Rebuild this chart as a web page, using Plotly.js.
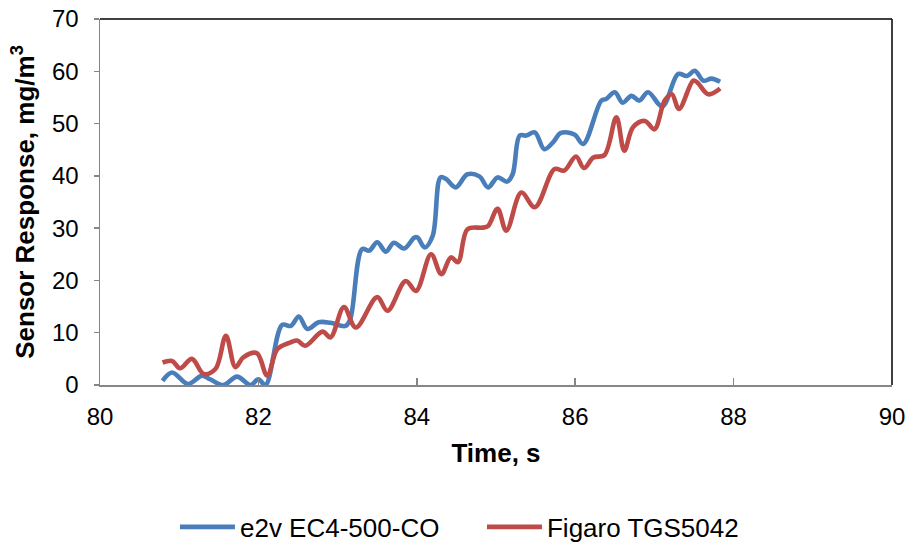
<!DOCTYPE html>
<html>
<head>
<meta charset="utf-8">
<script src="https://cdn.plot.ly/plotly-3.0.1.min.js"></script>
<style>html,body{margin:0;padding:0;background:#fff;}#chart{width:908px;height:545px;}</style>
</head>
<body>
<div id="chart"></div>
<script>
const seriesNames = ["e2v EC4-500-CO", "Figaro TGS5042"];

const e2vTime = [80.79,80.91,81.11,81.29,81.39,81.56,81.73,81.90,82.00,82.09,82.30,82.41,82.51,82.62,82.76,82.91,83.10,83.16,83.31,83.40,83.50,83.61,83.71,83.84,83.97,84.01,84.10,84.20,84.30,84.37,84.49,84.64,84.79,84.90,85.02,85.14,85.21,85.30,85.38,85.49,85.61,85.72,85.82,85.99,86.10,86.33,86.39,86.50,86.60,86.71,86.81,86.92,87.10,87.30,87.41,87.51,87.62,87.72,87.83];
const e2vValue = [0.8,2.4,0.2,1.8,1.1,0.0,1.6,0.0,1.1,0.0,11.5,11.3,13.1,10.7,12.0,11.9,11.3,12.6,26.0,25.7,27.3,25.5,27.2,26.1,28.2,28.2,26.3,28.5,39.7,39.4,37.8,40.3,39.9,37.8,39.7,38.9,40.3,47.7,47.7,48.3,45.1,46.4,48.2,47.9,46.1,54.4,54.7,56.0,54.0,55.3,54.4,56.0,53.3,59.5,59.1,60.1,58.2,58.6,58.0];

const figaroTime = [80.79,80.91,81.01,81.16,81.31,81.46,81.59,81.71,81.81,81.98,82.11,82.24,82.38,82.49,82.59,82.81,82.91,83.08,83.23,83.50,83.63,83.86,83.99,84.18,84.31,84.43,84.52,84.64,84.83,84.90,85.02,85.13,85.32,85.49,85.74,85.86,86.01,86.11,86.23,86.37,86.52,86.62,86.73,86.88,87.00,87.13,87.22,87.31,87.49,87.54,87.68,87.83];
const figaroValue = [4.3,4.6,3.2,5.0,2.1,3.1,9.4,3.4,5.3,6.1,1.8,6.9,8.0,8.5,7.5,10.2,9.1,14.9,11.0,16.8,14.2,19.9,18.0,25.0,21.2,24.4,23.5,29.8,30.1,30.4,33.7,29.5,36.8,34.0,41.3,41.0,43.7,41.5,43.5,44.0,51.2,44.8,49.3,50.5,48.9,54.4,55.6,52.8,58.2,57.9,55.6,56.7];

const xTicks = [80,82,84,86,88,90];
const yTicks = [0,10,20,30,40,50,60,70];

const FONT = "Liberation Sans, Arial, sans-serif";

const traces = [
  {x: e2vTime, y: e2vValue, name: seriesNames[0], mode: "lines", type: "scatter",
   line: {color: "#4a7ebb", width: 4.6, shape: "spline", smoothing: 1.0}},
  {x: figaroTime, y: figaroValue, name: seriesNames[1], mode: "lines", type: "scatter",
   line: {color: "#be4b48", width: 4.6, shape: "spline", smoothing: 1.0}}
];

const layout = {
  width: 908, height: 545,
  paper_bgcolor: "#ffffff", plot_bgcolor: "#ffffff",
  margin: {l: 100, r: 16, t: 19, b: 160},
  font: {family: FONT, color: "#000", size: 24},
  showlegend: true,
  legend: {orientation: "h", x: 0.1927, xanchor: "left", xref: "container", y: 0.033, yanchor: "middle", yref: "container",
           font: {family: FONT, size: 26, color: "#000"}, itemwidth: 55, tracegroupgap: 0,
           entrywidth: 237, entrywidthmode: "pixels"},
  xaxis: {
    range: [80, 90], tickvals: xTicks, ticktext: xTicks.map(String),
    showgrid: false, zeroline: false, showline: true, linecolor: "#868686", linewidth: 1.5,
    ticks: "inside", ticklen: 7, tickcolor: "#868686", tickwidth: 1.5,
    tickfont: {family: FONT, size: 24, color: "#000"}, ticklabelstandoff: 10,
    title: {text: "<b>Time, s</b>", font: {family: FONT, size: 26, color: "#000"}, standoff: 14}
  },
  yaxis: {
    range: [0, 70], tickvals: yTicks, ticktext: yTicks.map(String),
    showgrid: false, zeroline: false, showline: true, linecolor: "#868686", linewidth: 1.5,
    ticks: "outside", ticklen: 5, tickcolor: "#868686", tickwidth: 1.5,
    tickfont: {family: FONT, size: 24, color: "#000"}, ticklabelstandoff: 10,
    title: {text: "<b>Sensor Response, mg/m<sup>3</sup></b>", font: {family: FONT, size: 26, color: "#000"}, standoff: 10}
  },
  shapes: [
    {type: "line", xref: "paper", yref: "paper", x0: 0, x1: 1, y0: 1, y1: 1, line: {color: "#000", width: 1.5}},
    {type: "line", xref: "paper", yref: "paper", x0: 1, x1: 1, y0: 0, y1: 1, line: {color: "#000", width: 1.5}}
  ]
};

Plotly.newPlot("chart", traces, layout, {displayModeBar: false, staticPlot: true});
</script>
</body>
</html>
